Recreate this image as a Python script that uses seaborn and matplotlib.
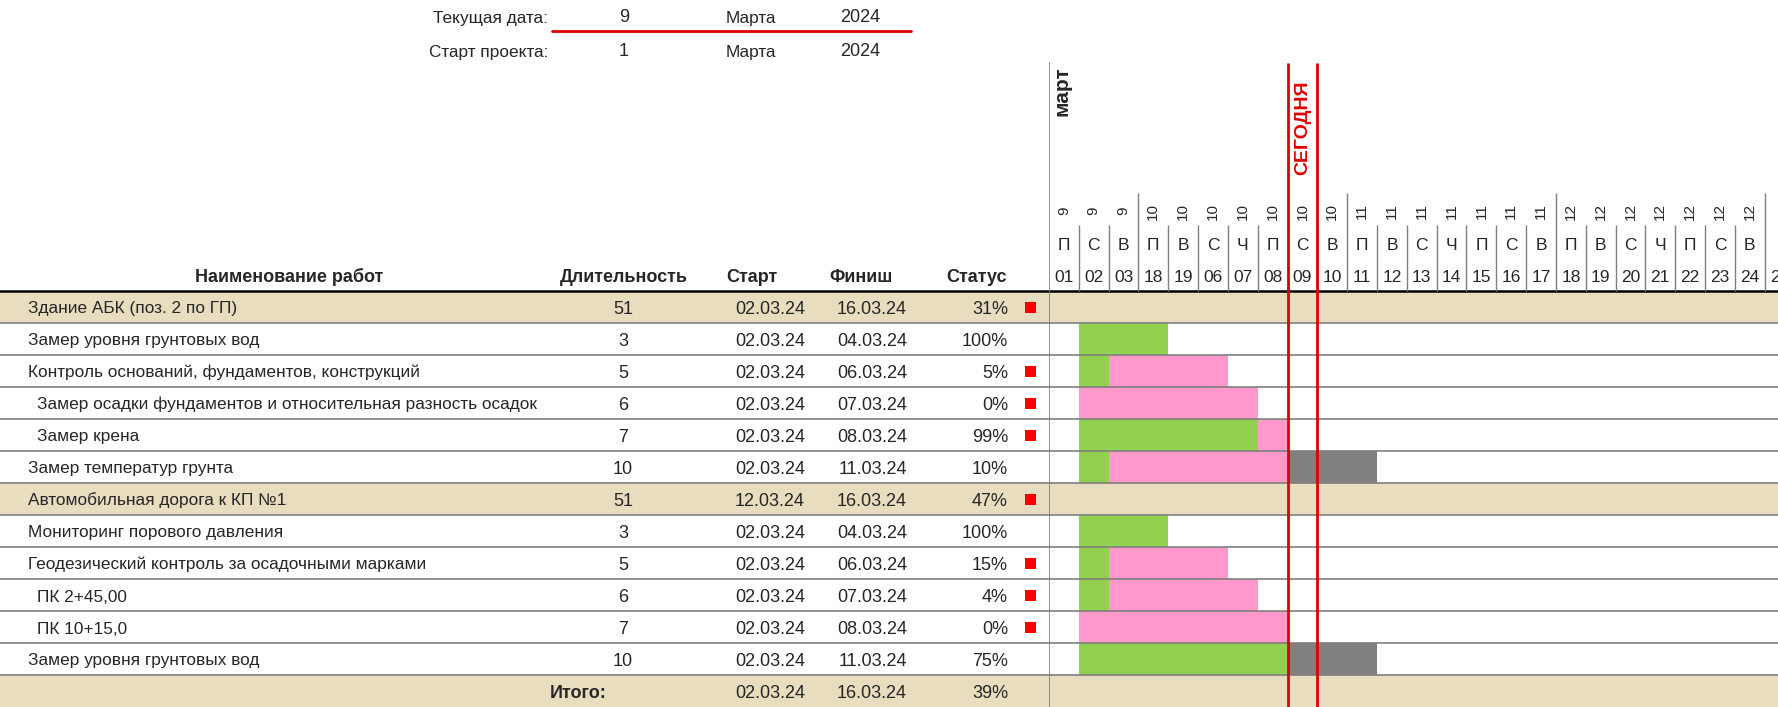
import numpy as np
import pandas as pd
import matplotlib.pyplot as plt
import seaborn as sns
from matplotlib.colors import ListedColormap
from matplotlib.patches import Rectangle

# ---- data ----
tasks = [
    "Здание АБК (поз. 2 по ГП)",
    "Замер уровня грунтовых вод",
    "Контроль оснований, фундаментов, конструкций",
    "Замер осадки фундаментов и относительная разность осадок",
    "Замер крена",
    "Замер температур грунта",
    "Автомобильная дорога к КП №1",
    "Мониторинг порового давления",
    "Геодезический контроль за осадочными марками",
    "ПК 2+45,00",
    "ПК 10+15,0",
    "Замер уровня грунтовых вод",
]
durations = [51, 3, 5, 6, 7, 10, 51, 3, 5, 6, 7, 10]
starts = ["02.03.24", "02.03.24", "02.03.24", "02.03.24", "02.03.24", "02.03.24",
          "12.03.24", "02.03.24", "02.03.24", "02.03.24", "02.03.24", "02.03.24"]
finishes = ["16.03.24", "04.03.24", "06.03.24", "07.03.24", "08.03.24", "11.03.24",
            "16.03.24", "04.03.24", "06.03.24", "07.03.24", "08.03.24", "11.03.24"]
status = [31, 100, 5, 0, 99, 10, 47, 100, 15, 4, 0, 75]
late_flag = [1, 0, 1, 1, 1, 0, 1, 0, 1, 1, 1, 0]
is_group = [1, 0, 0, 0, 0, 0, 1, 0, 0, 0, 0, 0]
indent = [0, 0, 0, 1, 1, 0, 0, 0, 0, 1, 1, 0]
bar_start_col = [1, 1, 1, 1, 1, 1, 1, 1, 1, 1, 1, 1]
done_days = [0, 3, 1, 0, 6, 1, 0, 3, 1, 1, 0, 7]
total_row = ["Итого:", "02.03.24", "16.03.24", "39%"]

day_labels = ["01", "02", "03", "18", "19", "06", "07", "08", "09", "10", "11", "12",
              "13", "14", "15", "16", "17", "18", "19", "20", "21", "22", "23", "24", "25"]
dow_labels = ["П", "С", "В", "П", "В", "С", "Ч", "П", "С", "В", "П", "В",
              "С", "Ч", "П", "С", "В", "П", "В", "С", "Ч", "П", "С", "В", ""]
week_labels = [9, 9, 9, 10, 10, 10, 10, 10, 10, 10, 11, 11,
               11, 11, 11, 11, 11, 12, 12, 12, 12, 12, 12, 12, 13]
today_col = 8

# ---- colours ----
TAN = "#E8DDBF"
GREEN = "#92D050"
PINK = "#FF99CC"
GREY = "#808080"
RED = "#E00000"
LINE = "#7F7F7F"

sns.set_theme(style="white")
plt.rcParams["font.family"] = ["Liberation Sans", "DejaVu Sans"]
FS = 13
FS_NAME = 12.4
BL = 6.5  # baseline offset below row centre, px

W, H = 1778, 707
fig = plt.figure(figsize=(W / 100, H / 100), dpi=100)

n_rows = len(tasks) + 1
head_y = 291
row_h = (H - head_y) / n_rows
gx0 = 1049
col_w = 29.82
n_cols = len(day_labels)

# ---- gantt cells as heatmap ----
cells = np.zeros((n_rows, n_cols))
for i in range(len(tasks)):
    if is_group[i]:
        cells[i, :] = 4
        continue
    s = bar_start_col[i]
    for c in range(s, s + durations[i]):
        if c < s + done_days[i]:
            cells[i, c] = 1
        elif c < today_col:
            cells[i, c] = 2
        else:
            cells[i, c] = 3
cells[n_rows - 1, :] = 4
df_cells = pd.DataFrame(cells, columns=day_labels)

gax = fig.add_axes([gx0 / W, 0, n_cols * col_w / W, 1])
sns.heatmap(df_cells, ax=gax, cmap=ListedColormap(["white", GREEN, PINK, GREY, TAN]),
            vmin=-0.5, vmax=4.5, cbar=False, xticklabels=False, yticklabels=False,
            linewidths=0)
top = -head_y / row_h
gax.set_ylim(n_rows, top)
gax.set_xlim(0, n_cols)
gax.axis("off")

def py(p):
    # pixel y to gantt row units
    return (p - head_y) / row_h

for k in range(1, n_rows):
    gax.axhline(k, color=LINE, lw=1.2)
gax.axhline(0, color="black", lw=1.8)
gax.vlines(0, py(62), n_rows, color=LINE, lw=1.2)
for c in range(1, n_cols):
    y0 = py(193) if week_labels[c] != week_labels[c - 1] else py(225)
    gax.vlines(c, y0, 0, color=LINE, lw=1)
for c in range(n_cols - 1):
    gax.text(c + 0.5, py(211), str(week_labels[c]), rotation=90, ha="center", va="center",
             fontsize=11)
    gax.text(c + 0.5, py(244 + BL), dow_labels[c], ha="center", va="baseline", fontsize=12.5)
for c in range(n_cols):
    gax.text(c + 0.5, py(276 + BL), day_labels[c], ha="center", va="baseline", fontsize=12.5)
gax.text(0.42, py(66), "март", rotation=90, ha="center", va="top", fontsize=15,
         fontweight="bold")
gax.vlines([today_col, today_col + 1], py(63), n_rows, color=RED, lw=2)
gax.text(today_col + 0.5, py(128), "СЕГОДНЯ", rotation=90, ha="center", va="center",
         fontsize=14, fontweight="bold", color=RED)

# ---- table ----
ax = fig.add_axes([0, 0, gx0 / W, 1])
ax.set_xlim(0, gx0)
ax.set_ylim(H, 0)
ax.axis("off")

def put(x, y, s, ha="left", size=FS, **kw):
    ax.text(x, y + BL, s, ha=ha, va="baseline", fontsize=size, **kw)

put(548, 16, "Текущая дата:", "right", FS_NAME)
put(548, 50, "Старт проекта:", "right", FS_NAME)
for yy, d in [(16, "9"), (50, "1")]:
    put(624, yy, d, "center")
    put(751, yy, "Марта", "center", FS_NAME)
    put(860, yy, "2024", "center")
ax.plot([552, 911], [31, 31], color=RED, lw=2)

hy = 276
put(289, hy, "Наименование работ", "center", fontweight="bold")
put(624, hy, "Длительность", "center", fontweight="bold")
put(752, hy, "Старт", "center", fontweight="bold")
put(861, hy, "Финиш", "center", fontweight="bold")
put(1007, hy, "Статус", "right", fontweight="bold")

for i in range(n_rows):
    y0 = head_y + i * row_h
    yc = y0 + row_h / 2
    if i == n_rows - 1 or is_group[i]:
        ax.add_patch(Rectangle((0, y0), gx0, row_h, color=TAN, lw=0, zorder=0))
    if i == n_rows - 1:
        put(607, yc, total_row[0], "right", fontweight="bold")
        put(805, yc, total_row[1], "right")
        put(907, yc, total_row[2], "right")
        put(1008, yc, total_row[3], "right")
        continue
    put(37 if indent[i] else 28, yc, tasks[i], "left", FS_NAME)
    put(623, yc, str(durations[i]), "center")
    put(805, yc, starts[i], "right")
    put(907, yc, finishes[i], "right")
    put(1008, yc, f"{status[i]}%", "right")
    if late_flag[i]:
        ax.add_patch(Rectangle((1024.5, yc - 5.5), 11, 11, color="#FF0000", lw=0))

for k in range(1, n_rows):
    ax.axhline(head_y + k * row_h, color=LINE, lw=1.2)
ax.axhline(head_y, color="black", lw=1.8)

fig.savefig("out.png", dpi=100)
